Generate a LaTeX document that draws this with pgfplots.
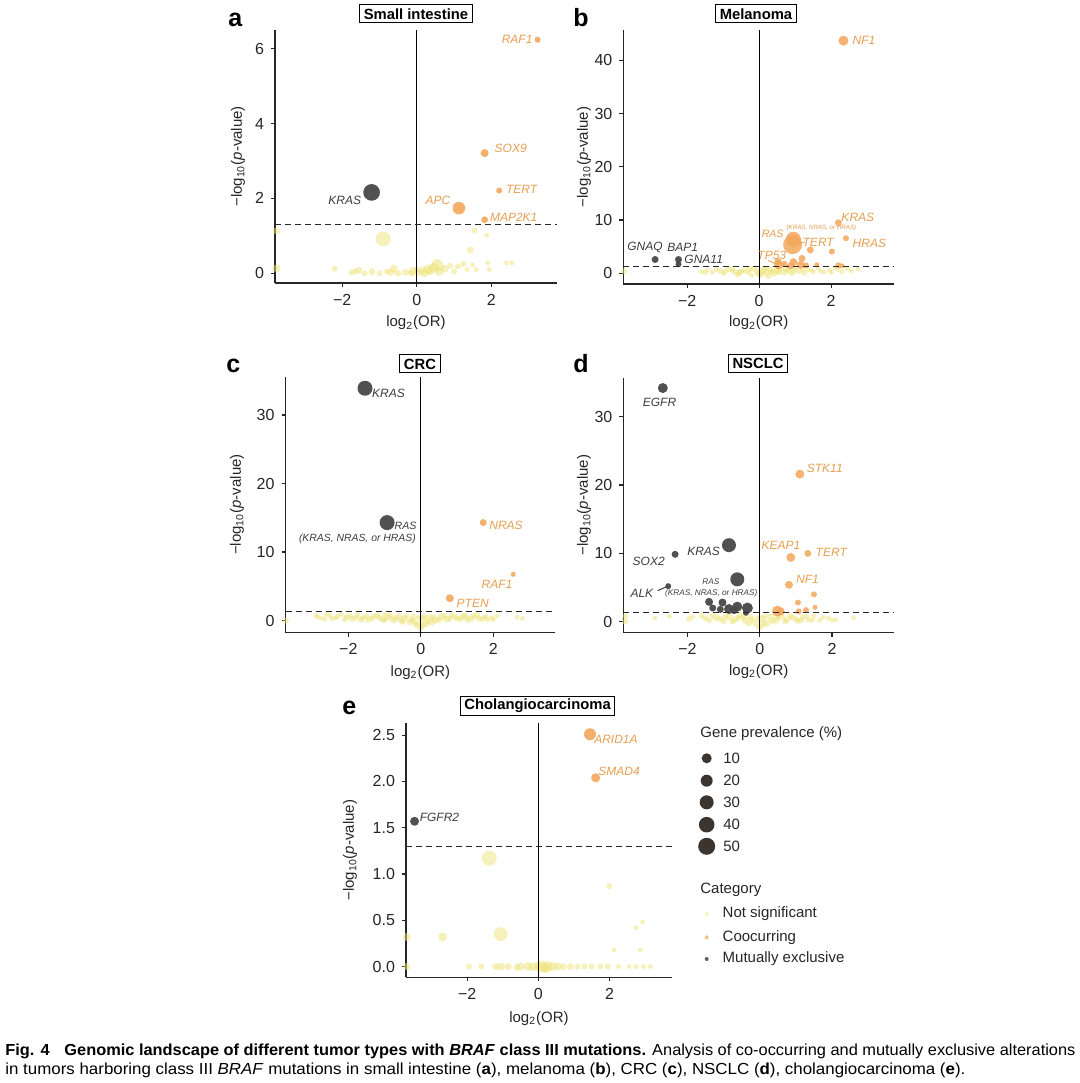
\documentclass[border=0pt]{standalone}
\usepackage{fontspec}
\setmainfont{Liberation Sans}
\usepackage{graphicx}
\usepackage{pgfplots}
\pgfplotsset{compat=1.18}

\definecolor{ycol}{RGB}{238,226,118}
\definecolor{ocol}{RGB}{243,166,92}
\definecolor{dcol}{RGB}{72,72,72}
\definecolor{otxt}{RGB}{230,158,80}
\definecolor{dtxt}{RGB}{60,60,60}
\definecolor{lcol}{RGB}{60,52,46}

\pgfplotsset{
 panel/.style={anchor=south west, scale only axis, axis lines*=left,
   axis line style={line width=0.65pt, black!85, -},
   tick align=outside, major tick length=2pt,
   tick style={line width=0.6pt, black!85},
   tick label style={font=\fontsize{8}{9}\selectfont, text=black!85},
   xtick={-2,0,2}, xticklabels={−2,0,2},
   clip mode=individual},
 bub/.style 2 args={scatter, only marks, mark=*,
   scatter/use mapped color={draw=#1, draw opacity=0, fill=#1, fill opacity=#2},
   visualization depends on={0.25*\thisrow{d} \as \msz},
   scatter/@pre marker code/.append style={/tikz/mark size=\msz}},
 vline/.style={black, line width=0.5pt},
 hline/.style={black!85, line width=0.5pt, dash pattern=on 3pt off 2pt},
}
\tikzset{
 olab/.style={font=\fontsize{6}{7}\selectfont\itshape, text=otxt, inner sep=0pt},
 dlab/.style={font=\fontsize{6}{7}\selectfont\itshape, text=dtxt, inner sep=0pt},
 ttl/.style={draw=black, line width=0.5pt, font=\fontsize{7.4}{8}\selectfont\bfseries, inner xsep=2pt, inner ysep=1.3pt, minimum height=9pt},
 plet/.style={font=\fontsize{12.5}{13}\selectfont\bfseries, anchor=base west, inner sep=0pt},
 ylab/.style={rotate=90, font=\fontsize{7.5}{8}\selectfont, text=black!85},
 xlab/.style={font=\fontsize{7.5}{8}\selectfont, text=black!85},
}
\newcommand{\ylabtxt}{−log\textsubscript{10}(\textit{p}-value)}
\newcommand{\xlabtxt}{log\textsubscript{2}(OR)}

\begin{document}
\begin{tikzpicture}
\useasboundingbox (0,0) rectangle (540pt,541.5pt);

% ---------------- Panel a ----------------
\begin{axis}[panel, at={(137.5pt,400pt)}, width=141pt, height=126.5pt,
  xmin=-3.8, xmax=3.76, ymin=-0.26, ymax=6.5,
  ytick={0,2,4,6}, yticklabels={0,2,4,6}]
\addplot[bub={ycol}{0.5}] table {
x y d
-3.76 1.13 7
-3.76 0.13 8
-0.9 0.92 15
1.55 1.14 6
1.88 1.02 5
1.44 0.62 7
-2.2 0.12 6
-1.75 0.02 6
-1.55 0.08 7
-1.4 0.0 6
-1.2 0.04 7
-1.0 0.0 6
-0.8 0.05 6
-0.62 0.12 8
-0.5 0.0 7
-0.3 0.03 7
-0.15 0.0 6
0.05 0.02 7
0.2 0.0 8
0.35 0.06 8
0.45 0.15 10
0.55 0.22 12
0.6 0.05 9
0.75 0.12 8
0.9 0.2 6
1.0 0.05 6
1.1 0.18 6
1.25 0.25 6
1.35 0.1 5
1.5 0.22 5
1.6 0.1 5
1.9 0.28 5
1.95 0.1 5
2.4 0.28 5
2.55 0.28 5
0.0 0.1 6
-0.1 0.05 9
0.3 0.1 10
-1.65 0.05 6
-0.7 0.02 7
0.15 0.08 8
};
\addplot[bub={ocol}{0.9}] table {
x y d
3.24 6.24 6
1.82 3.21 8
2.21 2.21 6
1.13 1.74 12.7
1.82 1.43 6.7
};
\addplot[bub={dcol}{0.95}] table {
x y d
-1.21 2.16 16.7
};
\addplot[vline] coordinates {(0,-0.26) (0,6.5)};
\addplot[hline] coordinates {(-3.8,1.301) (3.76,1.301)};
\node[olab] at (axis cs:2.69,6.24) {RAF1};
\node[olab] at (axis cs:2.52,3.34) {SOX9};
\node[olab] at (axis cs:2.81,2.23) {TERT};
\node[olab] at (axis cs:0.57,1.96) {APC};
\node[olab] at (axis cs:2.60,1.50) {MAP2K1};
\node[dlab] at (axis cs:-1.93,1.96) {KRAS};
\end{axis}

% ---------------- Panel b ----------------
\begin{axis}[panel, at={(311.7pt,399.5pt)}, width=135.4pt, height=127pt,
  xmin=-3.77, xmax=3.75, ymin=-2.0, ymax=45.7,
  ytick={0,10,20,30,40}, yticklabels={0,10,20,30,40}]
\addplot[bub={ycol}{0.5}] table {
x y d
-3.75 0.4 6
-1.6 0.3 5
-1.45 0.6 5
-1.3 0.2 5
-1.1 0.5 6
-1.0 0.0 5
-0.85 0.8 6
-0.7 0.3 6
-0.55 0.1 7
-0.4 0.6 6
-0.3 0.2 6
-0.15 0.9 6
-0.05 0.3 7
0.05 -0.3 6
0.1 0.5 8
0.2 0.2 7
0.3 0.8 7
0.4 0.1 8
0.5 0.5 7
0.6 0.9 6
0.7 0.2 7
0.8 0.6 6
0.9 0.0 6
1.0 0.9 6
1.1 0.4 6
1.25 0.1 6
1.35 0.7 5
1.5 0.3 5
1.65 0.9 5
1.8 0.2 5
1.95 0.6 5
2.1 1.0 5
2.3 0.3 5
2.55 0.5 5
2.75 0.8 5
-0.6 -0.2 6
0.0 0.0 8
0.25 -0.5 6
-0.2 -0.4 5
-1.5 0.1 5
-1.2 0.7 5
-0.95 0.3 6
-0.75 0.7 6
-0.5 0.4 6
-0.25 0.8 6
0.15 0.9 6
0.35 0.3 6
0.55 0.2 6
0.75 0.8 6
0.95 0.5 6
1.2 0.8 5
1.45 0.6 5
1.7 0.4 5
2.0 0.2 5
2.2 0.7 5
2.45 0.9 5
};
\addplot[bub={ocol}{0.85}] table {
x y d
2.34 43.7 10
2.2 9.5 7
2.41 6.6 6
0.95 6.4 15
0.93 5.4 19
1.42 4.4 7
2.02 4.1 6
0.54 1.6 9
0.52 2.2 7
0.95 2.1 8
1.19 2.8 7
1.15 1.6 8
0.87 1.4 7
1.3 1.5 6
1.6 1.6 5
2.2 1.5 6
2.3 1.4 5
0.7 1.8 6
};
\addplot[bub={dcol}{0.95}] table {
x y d
-2.89 2.6 7
-2.24 2.6 7
-2.24 1.7 6
};
\addplot[vline] coordinates {(0,-2.0) (0,45.7)};
\addplot[hline] coordinates {(-3.77,1.301) (3.75,1.301)};
\node[olab] at (axis cs:2.91,43.7) {NF1};
\node[olab] at (axis cs:2.74,10.6) {KRAS};
\node[olab] at (axis cs:3.06,5.64) {HRAS};
\node[olab, font=\fontsize{5.3}{6}\selectfont\itshape] at (axis cs:0.375,7.5) {RAS};
\node[olab, font=\fontsize{3.1}{4}\selectfont\itshape] at (axis cs:1.73,8.6) {(KRAS, NRAS, or HRAS)};
\node[olab] at (axis cs:1.64,5.9) {TERT};
\draw[otxt, line width=0.4pt] (axis cs:1.14,5.8) -- (axis cs:1.27,5.85);
\node[olab] at (axis cs:0.35,3.44) {TP53};
\draw[otxt, line width=0.4pt] (axis cs:0.25,2.4) -- (axis cs:0.45,1.8);
\node[dlab] at (axis cs:-3.17,4.8) {GNAQ};
\node[dlab] at (axis cs:-2.12,4.8) {BAP1};
\node[dlab] at (axis cs:-1.54,2.63) {GNA11};
\end{axis}

% ---------------- Panel c ----------------
\begin{axis}[panel, at={(142.8pt,225.2pt)}, width=134.7pt, height=128pt,
  xmin=-3.73, xmax=3.70, ymin=-1.75, ymax=35.6,
  ytick={0,10,20,30}, yticklabels={0,10,20,30}]
\addplot[bub={ycol}{0.5}] table {
x y d
-3.72 0.0 6
-2.9 0.8 5
-2.75 0.4 5
-2.6 0.9 5
-2.45 0.3 5
-2.3 0.6 6
-2.1 0.2 6
-1.95 0.7 6
-1.8 0.4 6
-1.65 0.1 6
-1.5 0.6 6
-1.35 0.3 6
-1.2 0.8 6
-1.05 0.2 7
-0.9 0.5 7
-0.75 0.1 7
-0.6 0.6 7
-0.45 0.3 7
-0.3 -0.2 7
-0.2 0.5 7
-0.1 -0.6 7
0.0 -1.0 7
0.05 0.2 8
0.15 -0.5 7
0.25 0.4 7
0.4 0.0 7
0.55 0.6 7
0.7 0.2 7
0.85 0.8 6
1.0 0.3 6
1.15 0.6 6
1.3 0.1 6
1.45 0.7 6
1.6 0.3 6
1.75 0.5 5
1.85 0.1 5
2.0 0.2 5
2.1 0.7 5
2.65 0.5 5
2.8 0.3 5
-0.5 -0.2 6
0.3 -0.3 6
-1.0 0.9 5
1.2 0.9 5
-2.85 0.5 5
-2.65 0.2 5
-2.5 0.7 5
-2.35 0.4 5
-2.2 0.9 5
-2.05 0.5 6
-1.9 0.2 6
-1.75 0.8 6
-1.6 0.4 6
-1.45 0.1 6
-1.3 0.6 6
-1.15 0.4 6
-1.0 0.1 6
-0.85 0.8 6
-0.7 0.4 6
-0.55 0.0 6
-0.4 0.7 6
-0.25 0.1 6
-0.15 -0.4 6
-0.05 0.4 6
0.05 -0.7 6
0.1 0.6 6
0.2 -0.1 6
0.35 0.5 6
0.5 0.1 6
0.65 0.7 6
0.8 0.3 6
0.95 0.6 6
1.1 0.2 6
1.25 0.5 6
1.4 0.3 6
1.55 0.8 6
1.7 0.2 6
1.8 0.6 5
1.95 0.4 5
};
\addplot[bub={ocol}{0.9}] table {
x y d
1.72 14.3 7
2.55 6.75 5
0.8 3.26 8
};
\addplot[bub={dcol}{0.95}] table {
x y d
-1.54 33.9 15
-0.93 14.3 15
};
\addplot[vline] coordinates {(0,-1.75) (0,35.6)};
\addplot[hline] coordinates {(-3.73,1.301) (3.70,1.301)};
\node[dlab] at (axis cs:-0.89,33.2) {KRAS};
\node[dlab, font=\fontsize{5.3}{6}\selectfont\itshape] at (axis cs:-0.42,13.85) {RAS};
\node[dlab, font=\fontsize{5.2}{6}\selectfont\itshape] at (axis cs:-1.75,11.9) {(KRAS, NRAS, or HRAS)};
\node[olab] at (axis cs:2.35,13.85) {NRAS};
\node[olab] at (axis cs:2.10,5.3) {RAF1};
\node[olab] at (axis cs:1.43,2.54) {PTEN};
\end{axis}

% ---------------- Panel d ----------------
\begin{axis}[panel, at={(311.7pt,225.2pt)}, width=135.4pt, height=127.4pt,
  xmin=-3.77, xmax=3.72, ymin=-1.6, ymax=35.7,
  ytick={0,10,20,30}, yticklabels={0,10,20,30}]
\addplot[bub={ycol}{0.5}] table {
x y d
-3.72 0.8 6
-3.72 0.0 6
-2.5 0.8 5
-1.95 0.4 6
-1.6 0.9 6
-1.4 0.2 6
-1.2 0.6 7
-1.0 0.1 7
-0.85 0.7 7
-0.7 0.3 7
-0.55 0.9 7
-0.4 0.2 7
-0.25 0.6 7
-0.1 -0.3 7
0.0 -0.8 7
0.05 0.4 8
0.2 -0.2 7
0.3 0.7 7
0.45 0.2 7
0.6 0.8 7
0.75 0.3 7
0.9 0.6 6
1.05 0.1 6
1.2 0.7 6
1.35 0.3 6
1.5 0.8 5
1.65 0.2 5
1.9 0.5 5
2.1 0.3 5
2.6 0.6 5
-0.3 -0.3 6
-2.9 0.5 5
-1.85 0.7 5
-1.5 0.5 6
-1.3 0.9 6
-1.1 0.4 6
-0.95 0.8 6
-0.75 0.0 6
-0.6 0.5 6
-0.45 0.7 6
-0.2 0.2 6
-0.05 0.5 6
0.1 -0.4 6
0.15 0.8 6
0.35 0.1 6
0.5 0.6 6
0.7 0.0 6
0.85 0.9 6
1.0 0.4 6
1.15 0.2 6
1.3 0.8 5
1.45 0.2 5
1.75 0.6 5
2.0 0.2 5
};
\addplot[bub={ocol}{0.85}] table {
x y d
1.11 21.6 9
0.86 9.4 9
1.33 10.0 7
0.81 5.4 8
1.5 4.0 6
1.06 2.8 6
1.53 2.1 5
1.28 1.7 6
1.08 1.5 6
0.49 1.55 11
0.58 1.5 8
};
\addplot[bub={dcol}{0.95}] table {
x y d
-2.68 34.2 10
-0.85 11.2 14
-2.34 9.86 7
-0.62 6.2 14
-2.53 5.2 6
-1.4 2.9 8
-1.03 2.8 8
-1.3 2.0 7
-1.09 1.8 7
-0.85 1.85 10
-0.62 2.2 10
-0.34 2.0 11
-0.38 1.3 6
-0.71 1.7 8
};
\addplot[vline] coordinates {(0,-1.6) (0,35.7)};
\addplot[hline] coordinates {(-3.77,1.301) (3.72,1.301)};
\node[dlab] at (axis cs:-2.77,32.1) {EGFR};
\node[olab] at (axis cs:1.80,22.5) {STK11};
\node[dlab] at (axis cs:-1.55,10.25) {KRAS};
\node[dlab] at (axis cs:-3.07,8.8) {SOX2};
\node[dlab] at (axis cs:-3.26,4.16) {ALK};
\draw[dtxt, line width=0.5pt] (axis cs:-2.82,4.54) -- (axis cs:-2.57,5.13);
\node[dlab, font=\fontsize{4.1}{5}\selectfont\itshape] at (axis cs:-1.35,5.86) {RAS};
\node[dlab, font=\fontsize{4.1}{5}\selectfont\itshape] at (axis cs:-1.34,4.16) {(KRAS, NRAS, or HRAS)};
\node[olab] at (axis cs:0.59,11.1) {KEAP1};
\node[olab] at (axis cs:1.98,10.1) {TERT};
\node[olab] at (axis cs:1.32,6.2) {NF1};
\end{axis}

% ---------------- Panel e ----------------
\begin{axis}[panel, at={(203pt,52.9pt)}, width=132.9pt, height=127pt,
  xmin=-3.72, xmax=3.75, ymin=-0.115, ymax=2.63,
  ytick={0,0.5,1,1.5,2,2.5}, yticklabels={0.0,0.5,1.0,1.5,2.0,2.5}]
\addplot[bub={ycol}{0.5}] table {
x y d
-1.38 1.17 15
-1.06 0.35 14
-2.69 0.32 9
-3.7 0.32 8
1.99 0.87 6
2.93 0.48 5
2.74 0.42 5
2.13 0.18 5
2.87 0.18 5
-3.7 0.0 7
-1.95 0.0 6
-1.6 0.0 6
-1.2 0.0 7
-1.05 0.0 8
-0.85 0.0 7
-0.5 0.0 8
-0.3 0.0 9
-0.15 0.0 9
0.0 0.0 10
0.1 0.0 12
0.25 0.0 11
0.4 0.0 9
0.55 0.0 8
0.7 0.0 7
0.9 0.0 7
1.1 0.0 6
1.3 0.0 6
1.5 0.0 6
1.75 0.0 6
1.95 0.0 6
2.25 0.0 5
2.55 0.0 5
2.75 0.0 5
2.95 0.0 5
3.15 0.0 5
-0.6 -0.01 7
0.2 -0.02 10
};
\addplot[bub={ocol}{0.9}] table {
x y d
1.45 2.51 12
1.61 2.04 9
};
\addplot[bub={dcol}{0.95}] table {
x y d
-3.48 1.57 9
};
\addplot[vline] coordinates {(0,-0.115) (0,2.63)};
\addplot[hline] coordinates {(-3.72,1.301) (3.75,1.301)};
\node[olab] at (axis cs:2.18,2.45) {ARID1A};
\node[olab] at (axis cs:2.27,2.11) {SMAD4};
\node[dlab] at (axis cs:-2.78,1.61) {FGFR2};
\end{axis}

% ---------------- Legend ----------------
\begin{axis}[anchor=south west, at={(345pt,51.5pt)}, scale only axis, width=100pt, height=130pt,
  xmin=0, xmax=200, ymin=0, ymax=260, hide axis, clip=false]
\addplot[bub={lcol}{1}] table {
x y d
16.7 221.7 10
16.7 199.3 12
16.7 177.7 14
16.7 155.3 15.6
16.7 133.7 17
};
\addplot[bub={ycol}{0.45}] table {
x y d
16.7 66 4
};
\addplot[bub={ocol}{0.7}] table {
x y d
16.7 42.7 4
};
\addplot[bub={dcol}{0.85}] table {
x y d
16.7 21 4
};
\tikzset{legt/.style={anchor=west, inner sep=0pt, font=\fontsize{7.5}{8}\selectfont, text=black!85}}
\node[legt] at (axis cs:10,246.7) {Gene prevalence (\%)};
\node[legt] at (axis cs:33,221.7) {10};
\node[legt] at (axis cs:33,199.3) {20};
\node[legt] at (axis cs:33,177.7) {30};
\node[legt] at (axis cs:33,155.3) {40};
\node[legt] at (axis cs:33,133.7) {50};
\node[legt] at (axis cs:10,90) {Category};
\node[legt] at (axis cs:32.3,66) {Not significant};
\node[legt] at (axis cs:32.3,42.7) {Coocurring};
\node[legt] at (axis cs:32.3,21) {Mutually exclusive};
\end{axis}

% ---------------- Titles, letters, axis labels ----------------
\node[ttl] at (208pt,534.5pt) {Small intestine};
\node[ttl] at (378pt,534.6pt) {Melanoma};
\node[ttl] at (210pt,359.5pt) {CRC};
\node[ttl] at (379pt,359.8pt) {NSCLC};
\node[ttl] at (268.8pt,188.7pt) {Cholangiocarcinoma};

\node[plet] at (114pt,528pt) {a};
\node[plet] at (286.5pt,528pt) {b};
\node[plet] at (113pt,355pt) {c};
\node[plet] at (286.5pt,355pt) {d};
\node[plet] at (171pt,184pt) {e};

\node[ylab] at (119pt,463.3pt) {\ylabtxt};
\node[ylab] at (292pt,463pt) {\ylabtxt};
\node[ylab] at (118.5pt,289.2pt) {\ylabtxt};
\node[ylab] at (292pt,288.9pt) {\ylabtxt};
\node[ylab] at (175pt,116.4pt) {\ylabtxt};

\node[xlab] at (208pt,380pt) {\xlabtxt};
\node[xlab] at (379.4pt,380pt) {\xlabtxt};
\node[xlab] at (210.2pt,205.2pt) {\xlabtxt};
\node[xlab] at (379.4pt,205.7pt) {\xlabtxt};
\node[xlab] at (269.5pt,32.4pt) {\xlabtxt};

% ---------------- Caption ----------------
\node[anchor=base west, inner sep=0pt] at (2.5pt,13.5pt) {\resizebox{535pt}{\height}{\fontsize{8}{9}\selectfont\textbf{Fig. 4\hspace{0.9em}Genomic landscape of different tumor types with \textit{BRAF} class III mutations.} Analysis of co-occurring and mutually exclusive alterations}};
\node[anchor=base west, inner sep=0pt] at (2.5pt,4.5pt) {\resizebox{480pt}{\height}{\fontsize{8}{9}\selectfont in tumors harboring class III \textit{BRAF} mutations in small intestine (\textbf{a}), melanoma (\textbf{b}), CRC (\textbf{c}), NSCLC (\textbf{d}), cholangiocarcinoma (\textbf{e}).}};
\end{tikzpicture}
\end{document}
